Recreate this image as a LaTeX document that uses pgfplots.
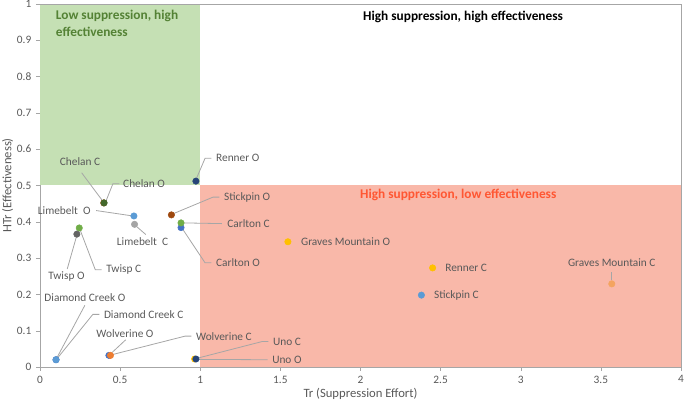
\documentclass[border=0pt]{standalone}
\usepackage{pgfplots}
\pgfplotsset{compat=1.18}
\usepackage{fontspec}
\setmainfont{Carlito}
\definecolor{txt}{HTML}{595959}
\definecolor{lead}{HTML}{A6A6A6}
\definecolor{axg}{HTML}{A6A6A6}
\definecolor{qgreen}{HTML}{C5E0B4}
\definecolor{qred}{HTML}{F9B8A9}
\definecolor{tgreen}{HTML}{548235}
\definecolor{tred}{HTML}{FF5733}
\definecolor{cnavy}{HTML}{264478}
\definecolor{cdkgreen}{HTML}{43682B}
\definecolor{cbrown}{HTML}{9E480E}
\definecolor{clblue}{HTML}{5B9BD5}
\definecolor{cblue}{HTML}{4472C4}
\definecolor{cgray}{HTML}{A5A5A5}
\definecolor{cdgray}{HTML}{636363}
\definecolor{cgreen}{HTML}{70AD47}
\definecolor{corange}{HTML}{ED7D31}
\definecolor{cgold}{HTML}{FFC000}
\definecolor{cpeach}{HTML}{F4A460}
\begin{document}
\begin{tikzpicture}[font=\fontsize{8.5}{10}\selectfont]
\begin{axis}[
  scale only axis,
  width=480.75pt, height=272.25pt,
  xmin=0, xmax=4, ymin=0, ymax=1,
  xtick={0,0.5,1,1.5,2,2.5,3,3.5,4},
  ytick={0,0.1,0.2,0.3,0.4,0.5,0.6,0.7,0.8,0.9,1},
  xtick pos=bottom, ytick pos=left,
  tick align=outside, major tick length=3pt,
  tick style={axg},
  axis line style={axg},
  /pgf/number format/assume math mode=true,
  tick label style={font=\fontsize{8.5}{10}\selectfont, text=txt},
  xlabel={Tr (Suppression Effort)},
  ylabel={HTr (Effectiveness)},
  label style={font=\fontsize{9.5}{11}\selectfont, text=txt},
  xlabel style={yshift=3pt},
  ylabel style={yshift=-4pt},
  clip=false,
  every axis plot/.append style={only marks, mark=*, mark size=2.4pt},
]
\fill[qgreen] (axis cs:0,0.5) rectangle (axis cs:1,1);
\fill[qred] (axis cs:1,0) rectangle (axis cs:4,0.5);
\draw[axg] (axis cs:0,1) -- (axis cs:4,1) -- (axis cs:4,0);

% leader lines
\begin{scope}[lead, line width=0.6pt]
\draw (axis cs:0.26,0.535) -- (axis cs:0.395,0.455);
\draw (axis cs:0.41,0.455) -- (axis cs:0.455,0.505) -- (axis cs:0.495,0.505);
\draw (axis cs:0.975,0.518) -- (axis cs:1.03,0.575) -- (axis cs:1.07,0.575);
\draw (axis cs:0.35,0.431) -- (axis cs:0.58,0.416);
\draw (axis cs:0.6,0.388) -- (axis cs:0.66,0.365);
\draw (axis cs:0.83,0.422) -- (axis cs:1.08,0.468) -- (axis cs:1.12,0.468);
\draw (axis cs:0.89,0.397) -- (axis cs:1.135,0.395);
\draw (axis cs:0.89,0.38) -- (axis cs:1.03,0.287) -- (axis cs:1.07,0.287);
\draw (axis cs:0.25,0.378) -- (axis cs:0.345,0.268) -- (axis cs:0.385,0.268);
\draw (axis cs:0.228,0.36) -- (axis cs:0.17,0.27);
\draw (axis cs:0.105,0.025) -- (axis cs:0.28,0.17);
\draw (axis cs:0.11,0.025) -- (axis cs:0.33,0.145) -- (axis cs:0.37,0.145);
\draw (axis cs:0.45,0.04) -- (axis cs:0.535,0.075);
\draw (axis cs:0.45,0.034) -- (axis cs:0.905,0.085) -- (axis cs:0.945,0.085);
\draw (axis cs:0.98,0.024) -- (axis cs:1.385,0.07) -- (axis cs:1.425,0.07);
\draw (axis cs:0.98,0.021) -- (axis cs:1.42,0.02);
\draw (axis cs:3.568,0.24) -- (axis cs:3.568,0.262);
\end{scope}

% data
\addplot[cbrown, mark options={fill=cbrown}] coordinates {(0.398,0.452)}; % Chelan O
\addplot[cdkgreen, mark options={fill=cdkgreen}] coordinates {(0.40,0.452)}; % Chelan C
\addplot[cnavy, mark options={fill=cnavy}] coordinates {(0.973,0.512)}; % Renner O
\addplot[clblue, mark options={fill=clblue}] coordinates {(0.586,0.416)}; % Limebelt O
\addplot[cgray, mark options={fill=cgray}] coordinates {(0.59,0.393)}; % Limebelt C
\addplot[cbrown, mark options={fill=cbrown}] coordinates {(0.82,0.419)}; % Stickpin O
\addplot[cblue, mark options={fill=cblue}] coordinates {(0.88,0.384)}; % Carlton O
\addplot[cgreen, mark options={fill=cgreen}] coordinates {(0.88,0.397)}; % Carlton C
\addplot[cgreen, mark options={fill=cgreen}] coordinates {(0.245,0.383)}; % Twisp C
\addplot[cdgray, mark options={fill=cdgray}] coordinates {(0.23,0.366)}; % Twisp O
\addplot[cblue, mark options={fill=cblue}] coordinates {(0.10,0.020)}; % Diamond Creek C
\addplot[clblue, mark options={fill=clblue}] coordinates {(0.10,0.020)}; % Diamond Creek O
\addplot[cblue, mark options={fill=cblue}] coordinates {(0.43,0.032)}; % Wolverine O
\addplot[corange, mark options={fill=corange}] coordinates {(0.44,0.032)}; % Wolverine C
\addplot[cgold, mark options={fill=cgold}] coordinates {(0.965,0.022)}; % Uno C
\addplot[cnavy, mark options={fill=cnavy}] coordinates {(0.973,0.022)}; % Uno O
\addplot[cgold, mark options={fill=cgold}] coordinates {(1.547,0.345)}; % Graves Mountain O
\addplot[cgold, mark options={fill=cgold}] coordinates {(2.45,0.273)}; % Renner C
\addplot[clblue, mark options={fill=clblue}] coordinates {(2.38,0.198)}; % Stickpin C
\addplot[cpeach, mark options={fill=cpeach}] coordinates {(3.568,0.229)}; % Graves Mountain C

% point labels
\begin{scope}[text=txt]
\node at (axis cs:0.25,0.566) {Chelan C};
\node[anchor=west] at (axis cs:0.49,0.505) {Chelan O};
\node[anchor=west] at (axis cs:1.07,0.575) {Renner O};
\node[anchor=east] at (axis cs:0.345,0.431) {Limebelt\ \ O};
\node at (axis cs:0.64,0.345) {Limebelt\ \ C};
\node[anchor=west] at (axis cs:1.12,0.468) {Stickpin O};
\node[anchor=west] at (axis cs:1.14,0.395) {Carlton C};
\node[anchor=west] at (axis cs:1.07,0.287) {Carlton O};
\node[anchor=west] at (axis cs:0.385,0.268) {Twisp C};
\node at (axis cs:0.165,0.25) {Twisp O};
\node at (axis cs:0.28,0.19) {Diamond Creek O};
\node[anchor=west] at (axis cs:0.37,0.145) {Diamond Creek C};
\node at (axis cs:0.53,0.092) {Wolverine O};
\node[anchor=west] at (axis cs:0.945,0.085) {Wolverine C};
\node[anchor=west] at (axis cs:1.425,0.07) {Uno C};
\node[anchor=west] at (axis cs:1.42,0.02) {Uno O};
\node[anchor=west] at (axis cs:1.60,0.345) {Graves Mountain O};
\node[anchor=west] at (axis cs:2.50,0.273) {Renner C};
\node[anchor=west] at (axis cs:2.43,0.198) {Stickpin C};
\node at (axis cs:3.568,0.288) {Graves Mountain C};
\end{scope}

% quadrant labels
\node[anchor=north west, align=left, text=tgreen, font=\fontsize{10}{12.5}\selectfont\bfseries] at (axis cs:0.07,0.995) {Low suppression, high\\effectiveness};
\node[text=black, font=\fontsize{10}{12}\selectfont\bfseries] at (axis cs:2.64,0.965) {High suppression, high effectiveness};
\node[text=tred, font=\fontsize{10}{12}\selectfont\bfseries] at (axis cs:2.61,0.474) {High suppression, low effectiveness};
\end{axis}
\pgfresetboundingbox
\path (current axis.south west) ++(-30pt,-26.25pt) coordinate (bl);
\path (current axis.north east) ++(3pt,3pt) coordinate (tr);
\useasboundingbox (bl) rectangle (tr);
\end{tikzpicture}
\end{document}
